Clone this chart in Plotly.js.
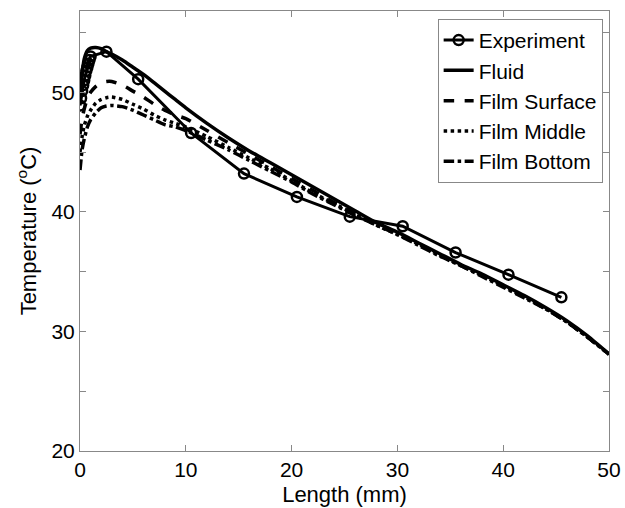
<!DOCTYPE html>
<html>
<head>
<meta charset="utf-8">
<script src="https://cdn.plot.ly/plotly-3.0.1.min.js"></script>
<style>html,body{margin:0;padding:0;background:#fff;}#chart{width:625px;height:508px;}</style>
</head>
<body>
<div id="chart"></div>
<script>
// Experiment
const expX = [0, 0.1, 0.2, 0.3, 0.4, 0.5, 0.6, 0.7, 0.8, 0.9, 1.0, 2.5, 5.5, 10.5, 15.5, 20.5, 25.5, 30.5, 35.5, 40.5, 45.5];
const expY = [48.9, 49.5, 50.1, 50.6, 51.0, 51.4, 51.8, 52.1, 52.4, 52.7, 53.0, 53.4, 51.1, 46.6, 43.2, 41.25, 39.6, 38.8, 36.6, 34.75, 32.85];

// Model curves share one x grid
const modelX = [0, 0.2, 0.4, 0.7, 1.0, 1.5, 2.0, 2.5, 3, 4, 5, 6, 7, 8, 9, 10, 12, 14, 16, 18, 20, 22, 24, 26, 28, 30, 32, 34, 36, 38, 40, 42, 44, 46, 48, 50];
const fluidY = [49.3, 51.5, 52.8, 53.5, 53.7, 53.75, 53.65, 53.4, 53.2, 52.7, 52.1, 51.5, 50.8, 50.1, 49.4, 48.7, 47.4, 46.2, 45.1, 44.1, 43.1, 42.1, 41.1, 40.1, 39.1, 38.3, 37.4, 36.5, 35.6, 34.8, 33.9, 33.0, 32.0, 30.9, 29.6, 28.1];
const surfaceY = [46.5, 47.8, 48.6, 49.5, 50.0, 50.5, 50.8, 50.9, 50.9, 50.6, 50.1, 49.6, 49.0, 48.5, 48.1, 47.8, 46.8, 45.8, 44.8, 43.8, 42.8, 41.8, 40.8, 39.9, 39.0, 38.2, 37.3, 36.4, 35.5, 34.7, 33.8, 32.9, 31.9, 30.8, 29.5, 28.1];
const middleY = [45.0, 46.3, 47.2, 48.0, 48.5, 49.1, 49.4, 49.55, 49.6, 49.4, 49.0, 48.6, 48.1, 47.7, 47.4, 47.1, 46.3, 45.4, 44.5, 43.6, 42.6, 41.6, 40.7, 39.8, 38.9, 38.1, 37.3, 36.4, 35.5, 34.7, 33.8, 32.9, 31.9, 30.8, 29.5, 28.1];
const bottomY = [43.5, 45.2, 46.1, 47.1, 47.7, 48.3, 48.7, 48.85, 48.9, 48.8, 48.5, 48.1, 47.7, 47.3, 47.1, 46.8, 46.0, 45.2, 44.3, 43.4, 42.5, 41.5, 40.6, 39.7, 38.9, 38.1, 37.2, 36.3, 35.5, 34.6, 33.7, 32.8, 31.9, 30.8, 29.5, 28.1];

const names = ["Experiment", "Fluid", "Film Surface", "Film Middle", "Film Bottom"];
const xTicks = [0, 10, 20, 30, 40, 50];
const yTicks = [20, 30, 40, 50];
const yMinorTicks = [25, 35, 45, 55];

const FONT = '"Liberation Sans", Arial, Helvetica, sans-serif';

const traces = [
  {x: expX, y: expY, name: names[0], mode: 'lines+markers',
   line: {color: '#000', width: 3},
   marker: {symbol: 'circle-open', size: 10, color: '#000', line: {width: 2.5, color: '#000'}}},
  {x: modelX, y: fluidY, name: names[1], mode: 'lines', line: {color: '#000', width: 3.5, shape: 'spline', smoothing: 0.6}},
  {x: modelX, y: surfaceY, name: names[2], mode: 'lines', line: {color: '#000', width: 3.5, dash: 'dash', shape: 'spline', smoothing: 0.6}},
  {x: modelX, y: middleY, name: names[3], mode: 'lines', line: {color: '#000', width: 3.5, dash: 'dot', shape: 'spline', smoothing: 0.6}},
  {x: modelX, y: bottomY, name: names[4], mode: 'lines', line: {color: '#000', width: 3.5, dash: 'dashdot', shape: 'spline', smoothing: 0.6}}
];

const layout = {
  width: 625, height: 508,
  margin: {l: 80, r: 16, t: 11, b: 57, pad: 0},
  paper_bgcolor: '#fff', plot_bgcolor: '#fff',
  font: {family: FONT, size: 21, color: '#000'},
  showlegend: true,
  legend: {x: 0.988, y: 0.982, xanchor: 'right', yanchor: 'top',
    bgcolor: '#fff', bordercolor: '#888', borderwidth: 1,
    font: {family: FONT, size: 21, color: '#000'}, itemwidth: 30, tracegroupgap: 0},
  xaxis: {range: [0, 50], tickmode: 'array', tickvals: xTicks,
    ticks: 'inside', ticklen: 6, tickcolor: '#888', showline: true, linecolor: '#888', linewidth: 1,
    mirror: 'ticks', showgrid: false, zeroline: false,
    tickfont: {family: FONT, size: 21, color: '#000'},
    title: {text: 'Length (mm)', font: {family: FONT, size: 22, color: '#000'}, standoff: 6}},
  yaxis: {range: [20, 56.8], tickmode: 'array', tickvals: yTicks,
    ticks: 'inside', ticklen: 6, tickcolor: '#888', showline: true, linecolor: '#888', linewidth: 1,
    mirror: 'ticks', showgrid: false, zeroline: false,
    minor: {tickmode: 'array', tickvals: yMinorTicks, ticks: 'inside', ticklen: 6, tickcolor: '#888', showgrid: false},
    tickfont: {family: FONT, size: 21, color: '#000'},
    title: {text: 'Temperature (<sup>o</sup>C)', font: {family: FONT, size: 22, color: '#000'}, standoff: 8}}
};

Plotly.newPlot('chart', traces, layout, {staticPlot: true, displayModeBar: false});
</script>
</body>
</html>
